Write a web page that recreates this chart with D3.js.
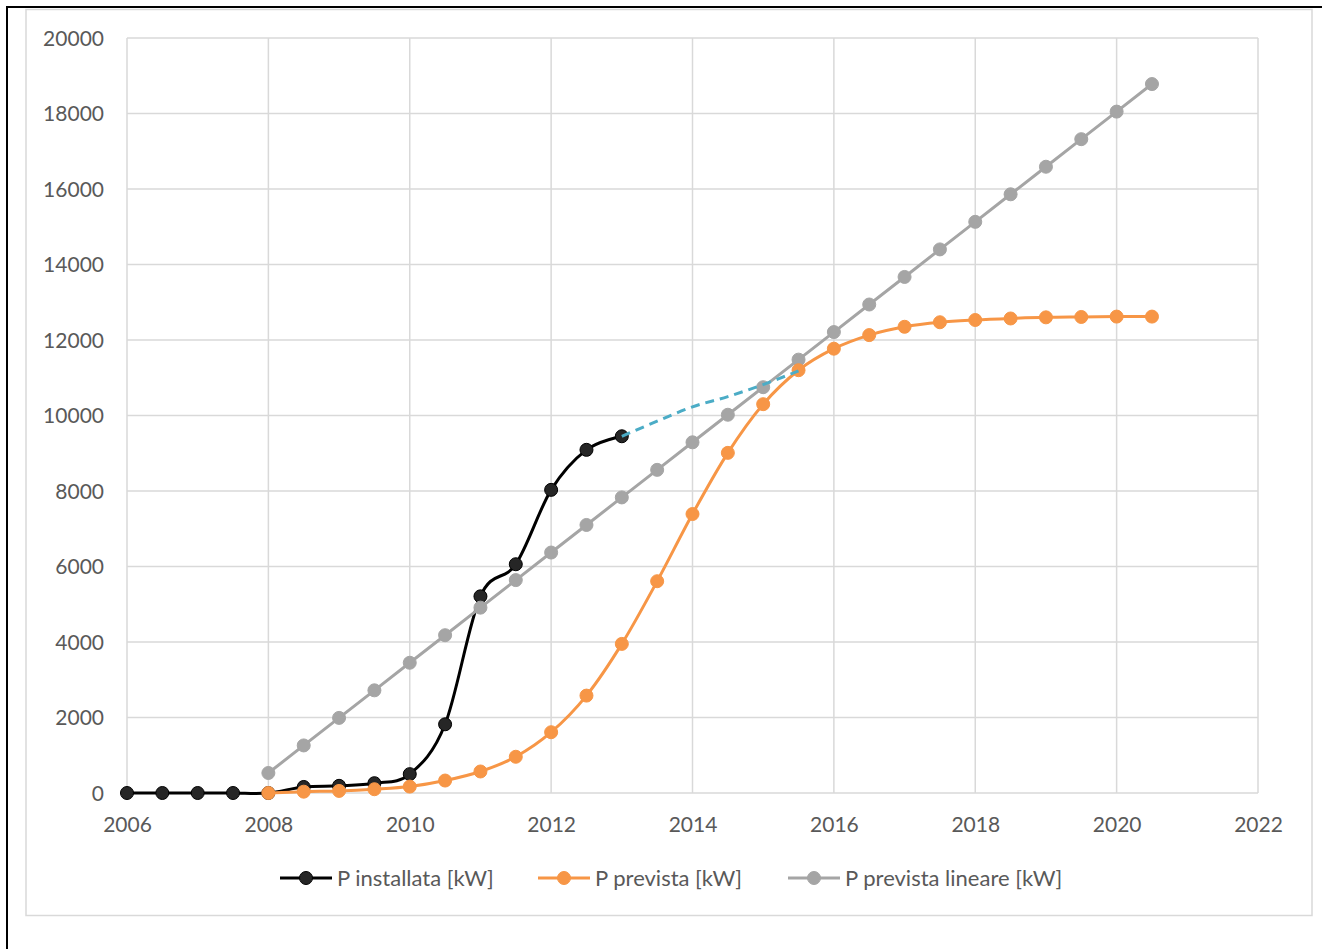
<!DOCTYPE html>
<html><head><meta charset="utf-8">
<script src="https://cdn.jsdelivr.net/npm/d3@7"></script>
<style>
html,body{margin:0;padding:0;background:#fff;}
svg{display:block;}
text{font-family:Lato,"Open Sans",sans-serif;fill:#595959;}
</style></head>
<body>
<script>
// ---- data ----
const yearsInstallata = [2006,2006.5,2007,2007.5,2008,2008.5,2009,2009.5,2010,2010.5,2011,2011.5,2012,2012.5,2013];
const installata = [0,0,0,0,0,160,190,260,500,1820,5210,6060,8030,9090,9450];

const yearsPrevista = [2008,2008.5,2009,2009.5,2010,2010.5,2011,2011.5,2012,2012.5,2013,2013.5,2014,2014.5,2015,2015.5,2016,2016.5,2017,2017.5,2018,2018.5,2019,2019.5,2020,2020.5];
const prevista = [0,35,55,100,170,330,570,960,1610,2580,3950,5610,7390,9010,10300,11200,11770,12130,12350,12470,12530,12570,12600,12610,12620,12620];
const previstaLineare = [530,1260,1990,2720,3450,4180,4910,5640,6370,7100,7830,8560,9290,10020,10750,11480,12210,12940,13670,14400,15130,15860,16590,17320,18050,18780];

const yearsTrend = [2013,2013.5,2014,2014.5,2015,2015.5];
const trend = [9450,9850,10230,10500,10820,11180];

const xTicks = [2006,2008,2010,2012,2014,2016,2018,2020,2022];
const yTicks = [0,2000,4000,6000,8000,10000,12000,14000,16000,18000,20000];

const seriesNames = ["P installata [kW]","P prevista [kW]","P prevista lineare [kW]"];
const seriesColors = ["#000000","#F79646","#A5A5A5"];
const markerFills = ["#262626","#F79646","#A5A5A5"];

// ---- drawing ----
const W = 1322, H = 949;
const svg = d3.select("body").append("svg").attr("width",W).attr("height",H);

// outer frame artefacts
svg.append("line").attr("x1",6).attr("x2",W).attr("y1",7).attr("y2",7).attr("stroke","#000").attr("stroke-width",2);
svg.append("line").attr("x1",7).attr("x2",7).attr("y1",6).attr("y2",H).attr("stroke","#000").attr("stroke-width",2);
// chart area border
svg.append("rect").attr("x",26).attr("y",9.5).attr("width",1286).attr("height",906)
  .attr("fill","#fff").attr("stroke","#d9d9d9").attr("stroke-width",1.5);

const x = d3.scaleLinear().domain([2006,2022]).range([127,1258]);
const y = d3.scaleLinear().domain([0,20000]).range([793,38]);

// gridlines
const grid = svg.append("g");
grid.selectAll("line.h").data(yTicks).join("line")
  .attr("x1",x(2006)).attr("x2",x(2022)).attr("y1",d=>y(d)).attr("y2",d=>y(d))
  .attr("stroke","#d9d9d9").attr("stroke-width",1.5);
grid.selectAll("line.v").data(xTicks).join("line").attr("class","v")
  .attr("y1",y(0)).attr("y2",y(20000)).attr("x1",d=>x(d)).attr("x2",d=>x(d))
  .attr("stroke","#d9d9d9").attr("stroke-width",1.5);

// axes labels via d3 axes
const yAxis = svg.append("g").attr("transform",`translate(${x(2006)},0)`)
  .call(d3.axisLeft(y).tickValues(yTicks).tickSize(0).tickPadding(23).tickFormat(d3.format("d")));
const xAxis = svg.append("g").attr("transform",`translate(0,${y(0)})`)
  .call(d3.axisBottom(x).tickValues(xTicks).tickSize(0).tickPadding(24).tickFormat(d3.format("d")));
[yAxis,xAxis].forEach(a=>{
  a.select(".domain").remove();
  a.selectAll("text").attr("font-size",21).attr("font-family","Lato, 'Open Sans', sans-serif").attr("fill","#595959");
});
yAxis.selectAll("text").attr("dy","0.35em");

function drawSeries(xs, vals, color, fill, curve){
  const pts = xs.map((d,i)=>[d,vals[i]]);
  const line = d3.line().x(d=>x(d[0])).y(d=>y(d[1])).curve(curve);
  svg.append("path").datum(pts).attr("d",line).attr("fill","none")
    .attr("stroke",color).attr("stroke-width",3).attr("stroke-linejoin","round").attr("stroke-linecap","round");
  svg.append("g").selectAll("circle").data(pts).join("circle")
    .attr("cx",d=>x(d[0])).attr("cy",d=>y(d[1])).attr("r",6.5)
    .attr("fill",fill).attr("stroke",color).attr("stroke-width",1);
}

// draw order: installata, linear, prevista, then trend
drawSeries(yearsInstallata, installata, seriesColors[0], markerFills[0], d3.curveCatmullRom.alpha(0));
drawSeries(yearsPrevista, previstaLineare, seriesColors[2], markerFills[2], d3.curveLinear);
drawSeries(yearsPrevista, prevista, seriesColors[1], markerFills[1], d3.curveCatmullRom.alpha(0));

// dashed trend
svg.append("path").datum(yearsTrend.map((d,i)=>[d,trend[i]]))
  .attr("d",d3.line().x(d=>x(d[0])).y(d=>y(d[1])).curve(d3.curveCatmullRom.alpha(0)))
  .attr("fill","none").attr("stroke","#4BACC6").attr("stroke-width",3).attr("stroke-dasharray","9,6");

// legend
const legX = [280,538,788];
const leg = svg.append("g");
seriesNames.forEach((n,i)=>{
  const g = leg.append("g").attr("transform",`translate(${legX[i]},878)`);
  g.append("line").attr("x1",0).attr("x2",52).attr("y1",0).attr("y2",0).attr("stroke",seriesColors[i]).attr("stroke-width",3);
  g.append("circle").attr("cx",26).attr("cy",0).attr("r",6.5).attr("fill",markerFills[i]).attr("stroke",seriesColors[i]).attr("stroke-width",1);
  g.append("text").attr("x",57).attr("y",0).attr("dy","0.35em").attr("font-size",22).text(n);
});
</script>
</body></html>
